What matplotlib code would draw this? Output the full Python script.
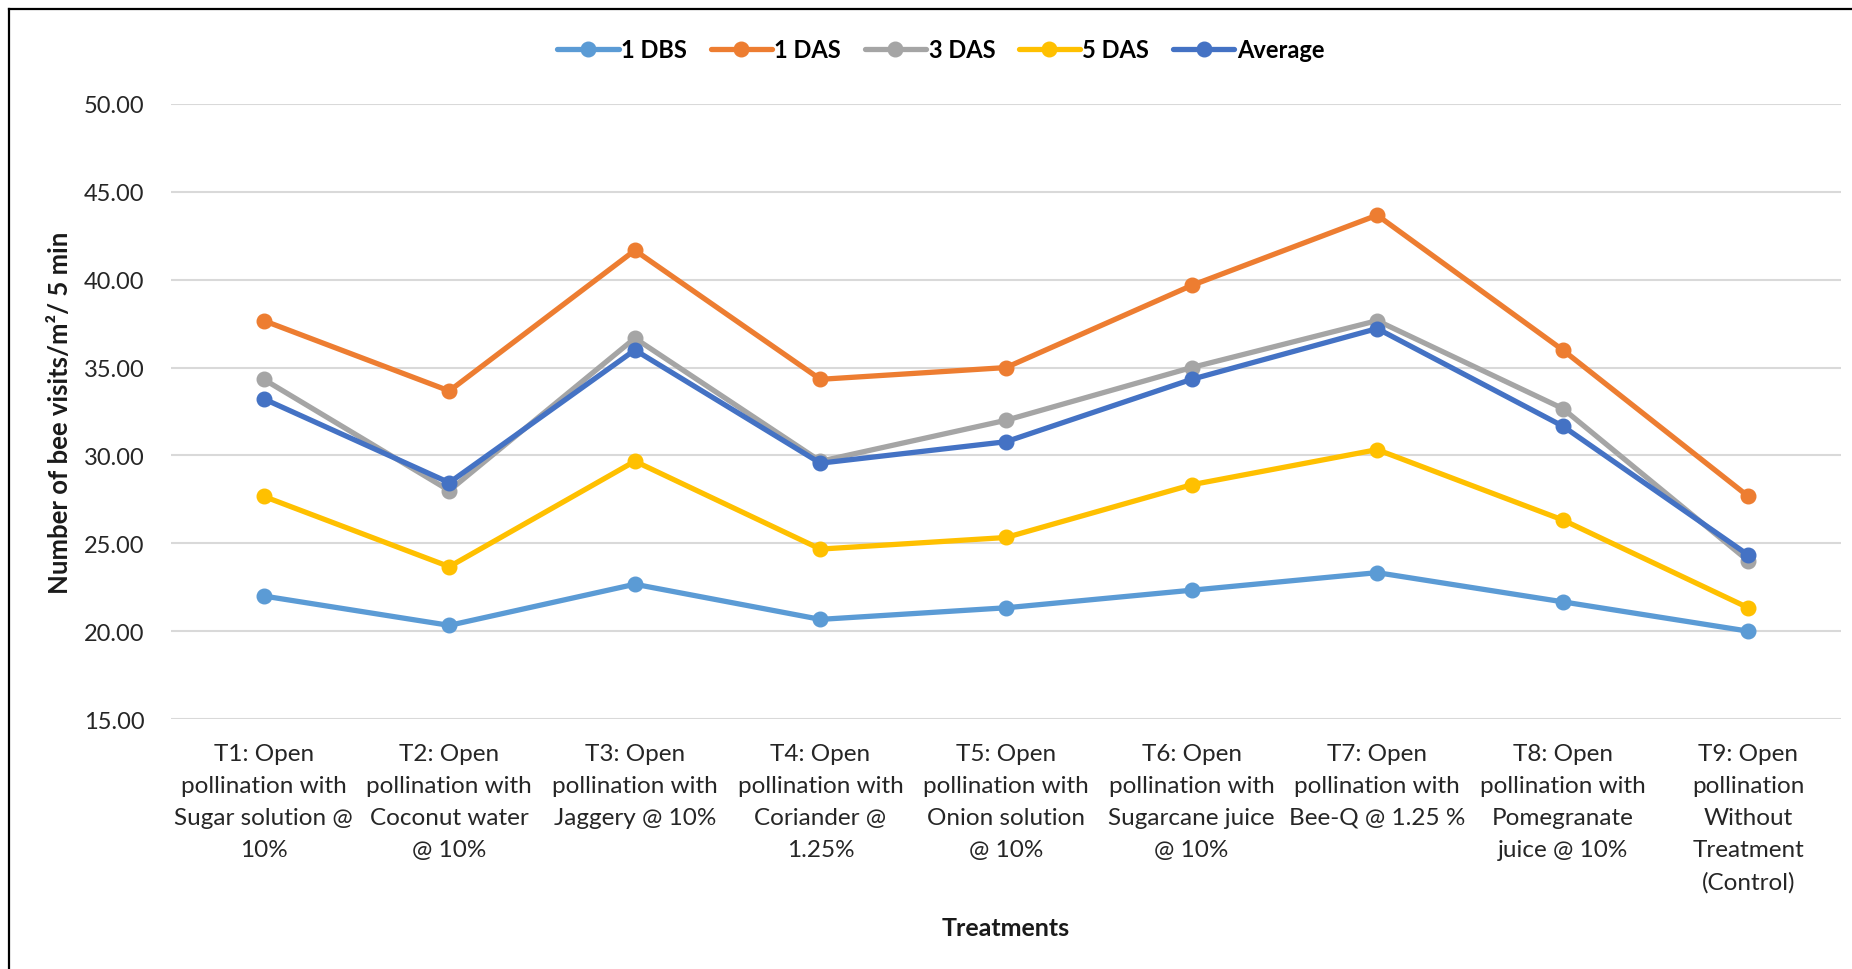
import numpy as np
import matplotlib
matplotlib.use("Agg")
import matplotlib.pyplot as plt
from matplotlib.lines import Line2D

plt.rcParams['font.family'] = ['Lato', 'DejaVu Sans']

# data
treatments = ["T1: Open\npollination with\nSugar solution @\n10%",
              "T2: Open\npollination with\nCoconut water\n@ 10%",
              "T3: Open\npollination with\nJaggery @ 10%",
              "T4: Open\npollination with\nCoriander @\n1.25%",
              "T5: Open\npollination with\nOnion solution\n@ 10%",
              "T6: Open\npollination with\nSugarcane juice\n@ 10%",
              "T7: Open\npollination with\nBee-Q @ 1.25 %",
              "T8: Open\npollination with\nPomegranate\njuice @ 10%",
              "T9: Open\npollination\nWithout\nTreatment\n(Control)"]
dbs1 = [22.00, 20.33, 22.67, 20.67, 21.33, 22.33, 23.33, 21.67, 20.00]
das1 = [37.67, 33.67, 41.67, 34.33, 35.00, 39.67, 43.67, 36.00, 27.67]
das3 = [34.33, 28.00, 36.67, 29.67, 32.00, 35.00, 37.67, 32.67, 24.00]
das5 = [27.67, 23.67, 29.67, 24.67, 25.33, 28.33, 30.33, 26.33, 21.33]
avg = [33.22, 28.45, 36.00, 29.56, 30.78, 34.33, 37.22, 31.67, 24.33]

series = [("1 DBS", dbs1, "#5B9BD5"),
          ("1 DAS", das1, "#ED7D31"),
          ("3 DAS", das3, "#A5A5A5"),
          ("5 DAS", das5, "#FFC000"),
          ("Average", avg, "#4472C4")]

fig = plt.figure(figsize=(18.52, 9.70), dpi=100)
ax = fig.add_axes([0.0923, 0.2577, 0.9018, 0.6341])

x = np.arange(len(treatments))
for name, vals, col in series:
    ax.plot(x, vals, color=col, lw=3.8, marker="o", markersize=10.5, label=name,
            solid_capstyle="round")

ax.set_xlim(-0.5, 8.5)
ax.set_ylim(15, 50)
ax.set_yticks(np.arange(15, 51, 5))
ax.set_yticklabels(["%.2f" % v for v in np.arange(15, 51, 5)])
ax.set_xticks(x)
ax.set_xticklabels(treatments, linespacing=1.65)
ax.tick_params(axis="both", length=0, labelsize=17, colors="#262626")
ax.tick_params(axis="x", labelsize=17.5, pad=17)
ax.tick_params(axis="y", pad=19)
ax.grid(axis="y", color="#D9D9D9", lw=1.5)
ax.set_axisbelow(True)
for s in ax.spines.values():
    s.set_visible(False)

ax.set_ylabel("Number of bee visits/m²/ 5 min", fontsize=18.5, fontweight="bold",
              color="#1a1a1a")
ax.yaxis.set_label_coords(-0.059, 0.5)
ax.set_xlabel("Treatments", fontsize=18, fontweight="bold", color="#1a1a1a")
ax.xaxis.set_label_coords(0.5, -0.32)

leg = fig.legend(loc="center", bbox_to_anchor=(0.508, 0.948), ncol=5, frameon=False,
                 prop={"size": 17, "weight": "bold"}, handlelength=2.6,
                 columnspacing=1.0, handletextpad=0.1)

# chart frame lines (left and top)
fig.add_artist(Line2D([0.0049, 0.0049], [0, 0.9897], color="black", lw=1.6))
fig.add_artist(Line2D([0.0049, 1.0], [0.9897, 0.9897], color="black", lw=1.6))

fig.savefig("out.png", dpi=100)
